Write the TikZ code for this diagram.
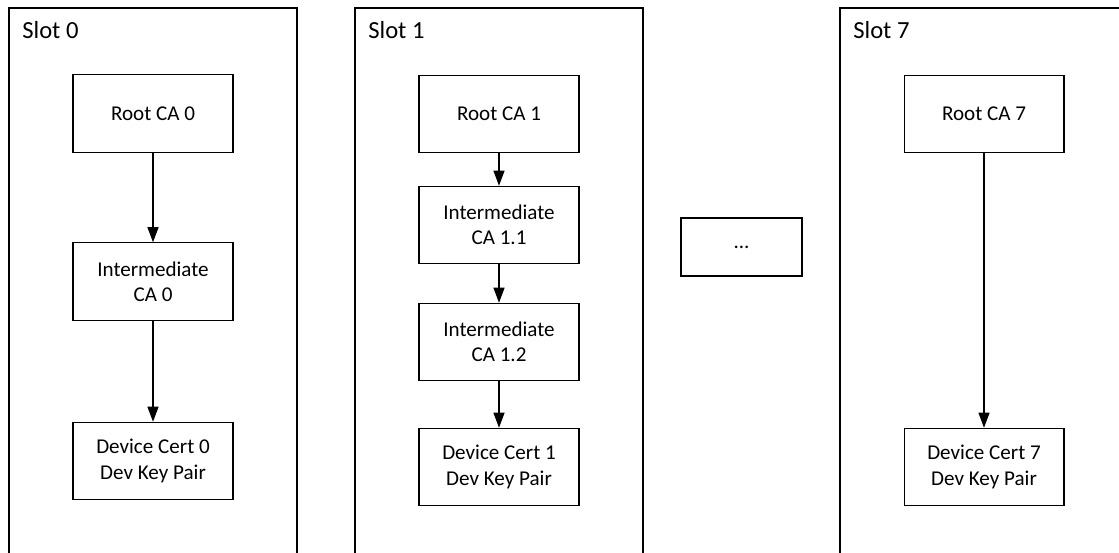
\documentclass[tikz,border=0pt]{standalone}
\usepackage{fontspec}
\setmainfont{Carlito}
\usetikzlibrary{arrows.meta}
\begin{document}
\begin{tikzpicture}[x=0.02cm,y=-0.02cm,
  cert/.style={draw,line width=0.6pt,minimum width=3.2cm,minimum height=1.55cm,
    align=center,inner sep=0pt,font=\fontsize{12}{14.5}\selectfont},
  slotlabel/.style={anchor=base west,inner sep=0pt,font=\fontsize{14}{16}\selectfont},
  link/.style={line width=0.6pt,-{Triangle[length=3mm,width=2.2mm]}}]
\useasboundingbox (0,0) rectangle (1119,553);
\clip (0,0) rectangle (1119,553);
% slot frames, open at the bottom
\foreach \l/\r in {9/297,355/643,840/1160} {
\draw[line width=0.7pt] (\l,8) rectangle (\r,600);};
\node[slotlabel] (s0) at (22,39) {Slot 0};
\node[slotlabel] (s1) at (368,39) {Slot 1};
\node[slotlabel] (s7) at (853,39) {Slot 7};
% slot 0
\node[cert] (root0) at (153,113.5) {Root CA 0};
\node[cert] (int0) at (153,281.5) {Intermediate\\CA 0};
\node[cert] (dev0) at (153,461) {Device Cert 0\\Dev Key Pair};
\draw[link] (root0)--(int0);
\draw[link] (int0)--(dev0);
% slot 1
\node[cert] (root1) at (499,114) {Root CA 1};
\node[cert] (int11) at (499,225) {Intermediate\\CA 1.1};
\node[cert] (int12) at (499,342) {Intermediate\\CA 1.2};
\node[cert] (dev1) at (499,467) {Device Cert 1\\Dev Key Pair};
\draw[link] (root1)--(int11);
\draw[link] (int11)--(int12);
\draw[link] (int12)--(dev1);
% the slots in between
\node[cert,minimum width=2.42cm,minimum height=1.16cm] (dots) at (741.5,247) {...};
% slot 7
\node[cert] (root7) at (984,114) {Root CA 7};
\node[cert] (dev7) at (984,467) {Device Cert 7\\Dev Key Pair};
\draw[link] (root7)--(dev7);
\end{tikzpicture}
\end{document}
